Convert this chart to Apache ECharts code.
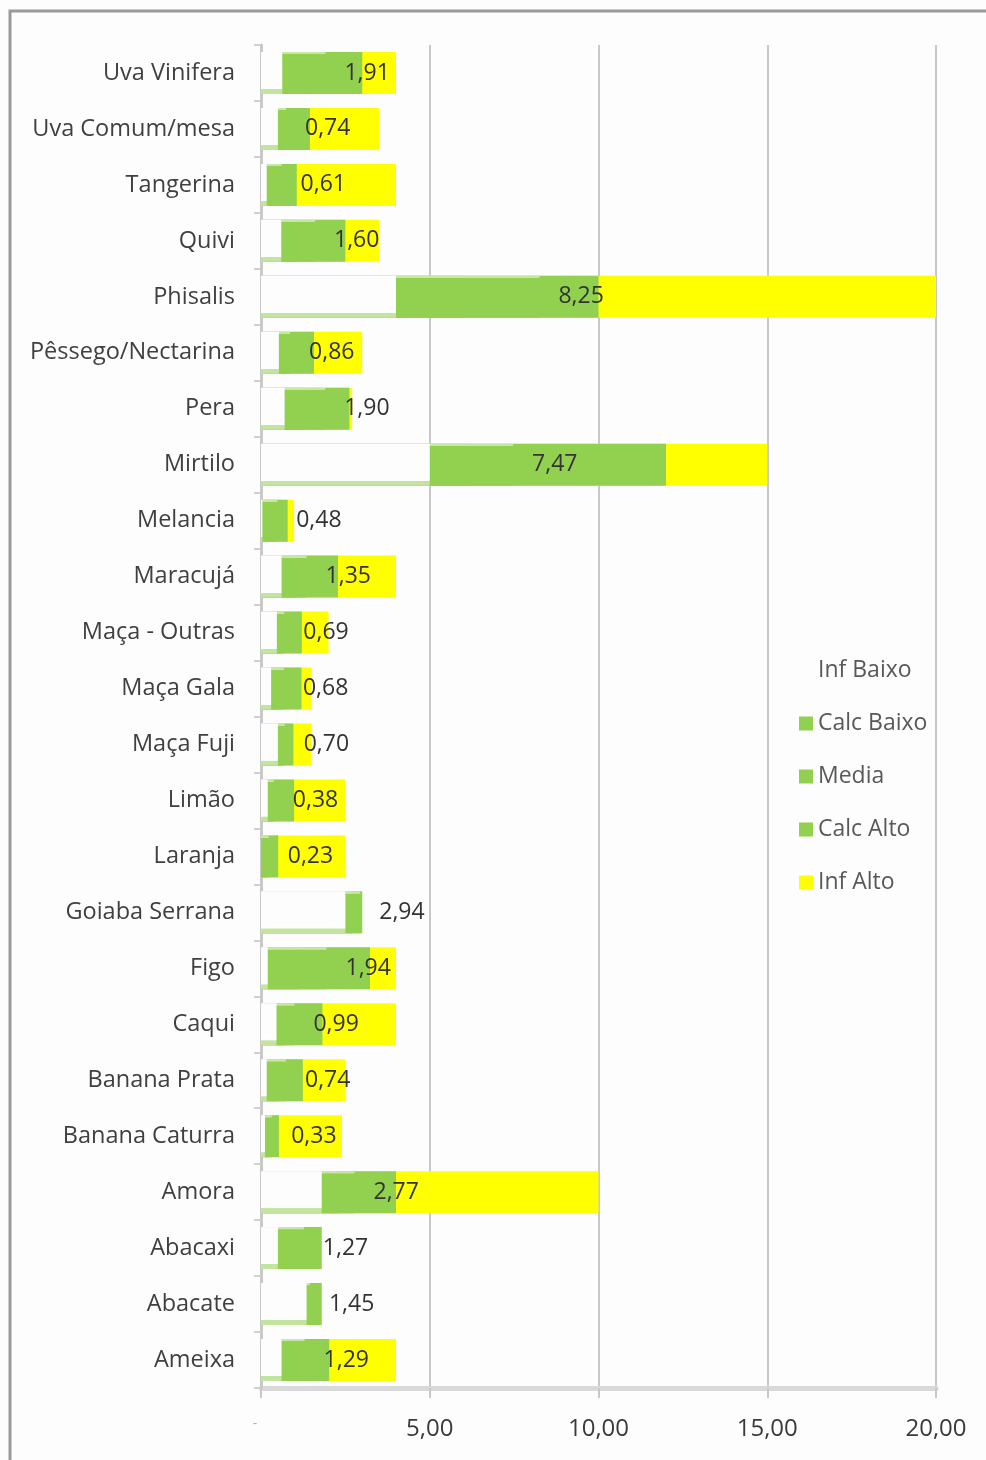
<!DOCTYPE html>
<html>
<head>
<meta charset="utf-8">
<script src="https://cdn.jsdelivr.net/npm/echarts@6/dist/echarts.min.js"></script>
<style>
  html, body { margin: 0; padding: 0; background: #fdfdfd; }
  #chart { width: 986px; height: 1460px; }
</style>
</head>
<body>
<div id="chart"></div>
<script>
// Faixas por fruta (barras sobrepostas a partir do zero, estilo Excel)
var categorias = ["Uva Vinifera", "Uva Comum/mesa", "Tangerina", "Quivi", "Phisalis",
  "Pêssego/Nectarina", "Pera", "Mirtilo", "Melancia", "Maracujá", "Maça - Outras",
  "Maça Gala", "Maça Fuji", "Limão", "Laranja", "Goiaba Serrana", "Figo", "Caqui",
  "Banana Prata", "Banana Caturra", "Amora", "Abacaxi", "Abacate", "Ameixa"];

var infBaixo  = [0.63, 0.50, 0.17, 0.60, 4.00, 0.53, 0.70, 5.00, 0.04, 0.61, 0.47, 0.30,
                 0.50, 0.20, 0.00, 2.50, 0.20, 0.46, 0.17, 0.12, 1.80, 0.50, 1.35, 0.61];
var calcBaixo = [1.20, 0.60, 0.40, 1.10, 6.00, 0.70, 1.30, 6.20, 0.25, 1.00, 0.58, 0.50,
                 0.60, 0.30, 0.12, 2.70, 1.10, 0.70, 0.45, 0.22, 2.30, 0.90, 1.40, 0.95];
var media     = [1.91, 0.74, 0.61, 1.60, 8.25, 0.86, 1.90, 7.47, 0.48, 1.35, 0.69, 0.68,
                 0.70, 0.38, 0.23, 2.94, 1.94, 0.99, 0.74, 0.33, 2.77, 1.27, 1.45, 1.29];
var calcAlto  = [3.00, 1.45, 1.06, 2.50, 10.0, 1.57, 2.62, 12.0, 0.79, 2.28, 1.21, 1.20,
                 0.96, 0.98, 0.51, 3.00, 3.23, 1.82, 1.24, 0.53, 4.00, 1.80, 1.80, 2.02];
var infAlto   = [4.00, 3.50, 4.00, 3.50, 20.0, 3.00, 2.70, 15.0, 0.98, 4.00, 2.00, 1.50,
                 1.50, 2.50, 2.50, 2.90, 4.00, 4.00, 2.50, 2.40, 10.0, 1.70, 1.70, 4.00];

var xTicks = [0, 5, 10, 15, 20];

(function () {
  "use strict";
  var FONT = "'Open Sans', 'Noto Sans', sans-serif";
  var VERDE = "#92d050", AMARELO = "#ffff00", GRADE = "#c8c8c8";

  function fmt(v) { return v === 0 ? "-" : v.toFixed(2).replace(".", ","); }

  function barra(nome, dados, cor, z) {
    return {
      name: nome, type: "bar", data: dados, barWidth: 42, barGap: "-100%",
      itemStyle: { color: cor }, z: z, silent: true
    };
  }

  // branco com faixa inferior translúcida (deixa aparecer a borda verde)
  var brancoBase = new echarts.graphic.LinearGradient(0, 0, 0, 1, [
    { offset: 0, color: "#fdfdfd" }, { offset: 0.88, color: "#fdfdfd" },
    { offset: 0.89, color: "rgba(253,253,253,0.45)" }, { offset: 1, color: "rgba(253,253,253,0.45)" }
  ]);
  // verdes internos: borda superior mais clara
  function verdeTopo() {
    return new echarts.graphic.LinearGradient(0, 0, 0, 1, [
      { offset: 0, color: "#c9e6a6" }, { offset: 0.05, color: "#c9e6a6" },
      { offset: 0.06, color: VERDE }, { offset: 1, color: VERDE }
    ]);
  }

  var sMedia = barra("Media", media, verdeTopo(), 4);
  sMedia.label = {
    show: true, position: "right", distance: 19,
    color: "#333333", fontFamily: FONT, fontSize: 23,
    formatter: function (p) { return fmt(p.value); }
  };

  var chart = echarts.init(document.getElementById("chart"), null, { renderer: "canvas" });
  chart.setOption({
    backgroundColor: "#fdfdfd",
    animation: false,
    graphic: [{
      type: "rect", silent: true, z: 100,
      shape: { x: 10, y: 11, width: 1100, height: 1600 },
      style: { fill: "none", stroke: "#9a9a9a", lineWidth: 3 }
    }],
    grid: { left: 261, right: 50, top: 45, bottom: 72, containLabel: false },
    legend: {
      orient: "vertical", left: 794, top: 654,
      itemWidth: 14, itemHeight: 14, itemGap: 30,
      icon: "rect",
      textStyle: { color: "#595959", fontFamily: FONT, fontSize: 23, lineHeight: 23 },
      data: [
        { name: "Inf Baixo", itemStyle: { color: "#fdfdfd" } },
        { name: "Calc Baixo", itemStyle: { color: VERDE } },
        { name: "Media", itemStyle: { color: VERDE } },
        "Calc Alto", "Inf Alto"
      ],
      selectedMode: false
    },
    xAxis: {
      type: "value", min: 0, max: 20, interval: 5,
      axisLine: { show: true, lineStyle: { color: "#d9d9d9", width: 5 } },
      axisTick: { show: true, length: 10, lineStyle: { color: GRADE, width: 2 } },
      splitLine: { show: true, lineStyle: { color: GRADE, width: 2 } },
      axisLabel: {
        margin: 29, color: "#3a3a3a", fontFamily: FONT, fontSize: 24,
        formatter: function (v) {
          if (v === 0) return "{z|-}";
          return xTicks.indexOf(v) >= 0 ? fmt(v) : "";
        },
        rich: { z: { color: "#b0b0b0", fontSize: 14, padding: [0, 12, 0, 0] } }
      }
    },
    yAxis: {
      type: "category", data: categorias, inverse: true, z: 5,
      axisLine: { show: true, lineStyle: { color: GRADE, width: 3 } },
      axisTick: { show: true, length: 7, lineStyle: { color: "#d0d0d0", width: 2 } },
      axisLabel: { margin: 26, color: "#404040", fontFamily: FONT, fontSize: 23.5 }
    },
    series: [
      barra("Inf Alto", infAlto, AMARELO, 2),
      barra("Calc Alto", calcAlto, VERDE, 3),
      sMedia,
      barra("Calc Baixo", calcBaixo, verdeTopo(), 5),
      barra("Inf Baixo", infBaixo, brancoBase, 6)
    ]
  });
})();
</script>
</body>
</html>
